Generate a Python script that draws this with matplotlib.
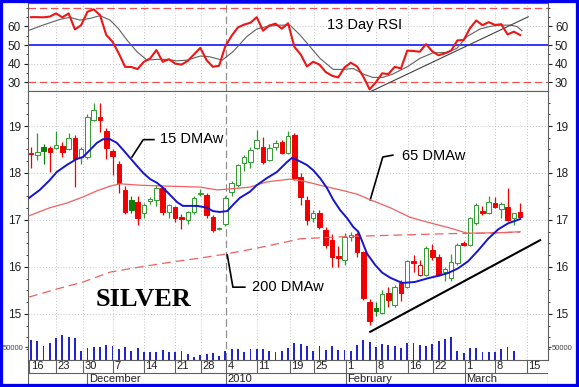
import matplotlib
matplotlib.use("Agg")
import matplotlib.pyplot as plt
from matplotlib.patches import Rectangle
from matplotlib.ticker import MultipleLocator

plt.rcParams['font.family'] = ['Liberation Sans', 'DejaVu Sans']

# --- data: daily silver candles, x = trading day index ---
opens = [18.42, 18.38, 18.56, 18.53, 18.53, 18.57, 18.51, 18.74, 18.34, 18.34,
         19.13, 19.20, 18.90, 18.47, 18.20, 17.64, 17.42, 17.38, 17.15, 17.41,
         17.43, 17.68, 17.17, 17.28, 17.06, 17.00, 17.17, 17.55, 17.53, 17.06,
         16.80, 16.92, 17.60, 17.74, 18.21, 18.23, 18.53, 18.55, 18.28, 18.55,
         18.66, 18.43, 18.81, 17.91, 17.43, 17.04, 17.15, 16.79, 16.57, 16.23,
         16.15, 16.64, 16.70, 16.32, 15.26, 15.13, 15.02, 15.45, 15.19, 15.66,
         15.57, 16.13, 15.83, 15.83, 16.36, 16.21, 15.90, 15.77, 16.08, 16.51,
         16.47, 16.94, 17.19, 17.15, 17.36, 17.23, 17.28, 17.04, 17.18]
highs = [18.55, 18.85, 18.62, 18.58, 18.90, 18.65, 18.85, 18.80, 18.55, 19.25,
         19.50, 19.50, 18.95, 18.50, 18.25, 17.72, 17.52, 17.52, 17.36, 17.48,
         17.75, 17.70, 17.35, 17.30, 17.12, 17.20, 17.50, 17.65, 17.58, 17.10,
         16.86, 17.52, 17.82, 18.20, 18.38, 18.55, 18.91, 18.77, 18.62, 18.70,
         18.70, 18.90, 18.85, 18.00, 17.50, 17.22, 17.22, 16.85, 16.70, 16.45,
         16.72, 16.75, 16.75, 16.35, 15.32, 15.25, 15.50, 15.58, 15.62, 15.72,
         16.15, 16.25, 16.15, 16.45, 16.48, 16.28, 15.99, 16.28, 16.50, 16.55,
         17.06, 17.36, 17.30, 17.50, 17.48, 17.38, 17.68, 17.15, 17.36]
lows = [18.10, 18.28, 18.20, 18.03, 18.50, 18.35, 18.48, 17.70, 18.20, 18.30,
        19.10, 18.87, 18.30, 17.96, 17.57, 17.12, 17.15, 16.90, 17.05, 17.35,
        17.30, 17.10, 17.05, 16.95, 16.80, 16.92, 17.12, 17.50, 17.05, 16.75,
        16.78, 16.88, 17.50, 17.70, 18.05, 18.10, 18.50, 18.20, 18.25, 18.48,
        18.40, 18.40, 17.85, 17.32, 16.90, 16.95, 16.80, 16.40, 16.00, 16.00,
        16.05, 16.55, 16.22, 15.30, 14.77, 14.95, 15.00, 15.15, 15.15, 15.28,
        15.55, 15.90, 15.80, 15.80, 16.15, 15.80, 15.70, 15.70, 16.05, 16.45,
        16.45, 16.90, 17.10, 17.12, 17.25, 17.05, 16.98, 16.90, 17.05]
closes = [18.40, 18.44, 18.47, 18.45, 18.60, 18.45, 18.74, 18.30, 18.50, 19.19,
          19.34, 19.13, 18.53, 18.36, 17.79, 17.17, 17.22, 17.04, 17.32, 17.44,
          17.68, 17.17, 17.32, 17.04, 17.03, 17.17, 17.47, 17.58, 17.10, 16.79,
          16.83, 17.47, 17.79, 18.17, 18.34, 18.49, 18.70, 18.23, 18.53, 18.64,
          18.43, 18.79, 17.89, 17.49, 17.00, 17.15, 16.85, 16.47, 16.21, 16.19,
          16.64, 16.68, 16.32, 15.34, 14.85, 15.06, 15.42, 15.30, 15.57, 15.45,
          16.13, 16.08, 16.05, 16.40, 16.21, 15.83, 15.96, 16.10, 16.47, 16.46,
          17.04, 17.32, 17.15, 17.38, 17.28, 17.34, 17.00, 17.14, 17.07]
volume = [77000, 73000, 54000, 65000, 85000, 96000, 88000, 85000, 35000, 46000,
          50000, 50000, 58000, 54000, 42000, 50000, 35000, 46000, 31000, 31000,
          31000, 38000, 31000, 31000, 35000, 23000, 12000, 19000, 23000, 27000,
          15000, 35000, 42000, 42000, 31000, 42000, 42000, 42000, 35000, 31000,
          35000, 46000, 65000, 62000, 54000, 35000, 54000, 38000, 54000, 38000,
          38000, 35000, 58000, 77000, 69000, 50000, 62000, 58000, 54000, 46000,
          65000, 65000, 58000, 54000, 62000, 73000, 81000, 88000, 35000, 27000,
          46000, 46000, 31000, 31000, 31000, 42000, 50000, 35000]
rsi13 = [65.0, 65.0, 64.9, 65.3, 67.0, 64.9, 67.0, 58.4, 60.7, 67.9,
         69.2, 66.1, 55.4, 51.8, 45.5, 38.3, 38.2, 37.1, 41.0, 42.8,
         47.3, 41.0, 42.4, 40.0, 39.5, 41.5, 45.0, 48.5, 41.9, 38.3,
         38.9, 49.5, 55.0, 59.5, 61.0, 62.0, 65.0, 57.7, 60.5, 61.5,
         58.8, 61.7, 49.0, 45.0, 38.5, 41.0, 39.5, 35.5, 33.5, 32.6,
         38.0, 40.5, 38.5, 33.0, 26.2, 30.0, 34.8, 34.4, 38.3, 37.4,
         47.0, 46.8, 46.4, 50.5, 46.6, 44.5, 45.5, 47.0, 52.5, 52.7,
         59.0, 63.2, 60.7, 62.3, 60.8, 61.2, 55.7, 57.2, 55.4]

rsi_sig_x = [-0.5, 1.9, 4.6, 6.2, 7.8, 9.4, 11.0, 12.6, 13.9, 15.3, 16.9, 18.5,
             20.1, 21.7, 23.3, 24.9, 27.0, 28.5, 30.5, 32.2, 34.4, 36.0, 37.6,
             39.7, 41.3, 42.9, 44.5, 46.1, 48.2, 49.8, 51.4, 53.0, 54.5, 56.1,
             57.7, 60.0, 62.0, 64.1, 66.3, 67.9, 69.5, 71.6, 73.2, 74.8, 76.4,
             77.5, 78.3]
rsi_sig_y = [57.7, 60.7, 63.8, 64.9, 63.4, 64.3, 65.8, 63.4, 59.0, 52.7, 46.4, 41.9,
             42.3, 42.3, 41.5, 41.9, 44.1, 43.7, 41.9, 46.4, 54.5, 58.6, 60.0,
             60.7, 60.7, 55.4, 49.1, 42.8, 36.9, 36.9, 37.4, 34.4, 32.6, 32.6,
             34.4, 38.3, 42.8, 45.8, 46.0, 48.2, 54.5, 58.6, 60.0, 60.7, 60.7,
             60.0, 57.7]
rsi_trend_x = [54.1, 79.3]
rsi_trend_y = [24.9, 65.2]

# moving averages
ma15_x = [-0.3, 1.4, 3.0, 4.1, 5.7, 7.3, 8.3, 9.4, 10.5, 11.5, 12.6, 13.7, 14.7,
          15.8, 16.9, 17.9, 19.0, 20.1, 21.1, 22.2, 23.3, 24.2, 26.5, 28.1, 29.0,
          30.1, 31.3, 32.2, 33.3, 34.9, 36.0, 37.6, 39.2, 40.8, 41.6, 42.4, 44.0,
          45.0, 46.1, 47.2, 48.2, 49.3, 50.4, 51.4, 52.2, 53.6, 54.9, 56.0, 57.3,
          58.5, 59.2, 61.2, 63.3, 64.9, 66.5, 68.1, 69.7, 71.3, 72.9, 74.5, 76.1, 78.0]
ma15_y = [17.47, 17.64, 17.85, 18.02, 18.17, 18.30, 18.34, 18.49, 18.64, 18.72, 18.72,
          18.64, 18.49, 18.32, 18.15, 18.00, 17.87, 17.79, 17.68, 17.53, 17.38, 17.30,
          17.30, 17.26, 17.19, 17.17, 17.19, 17.32, 17.47, 17.60, 17.74, 17.89, 18.02,
          18.23, 18.32, 18.28, 18.17, 18.06, 17.89, 17.68, 17.43, 17.21, 17.04, 16.85,
          16.75, 16.28, 16.04, 15.88, 15.77, 15.70, 15.66, 15.68, 15.76, 15.81, 15.87,
          15.97, 16.12, 16.35, 16.60, 16.80, 16.93, 17.02]
ma65_x = [-0.3, 3.0, 5.7, 8.3, 10.5, 12.6, 14.2, 17.4, 21.7, 27.0, 29.7, 31.7,
          34.9, 37.6, 41.3, 43.4, 46.1, 49.3, 52.0, 54.1, 57.3, 60.4, 63.6, 66.8,
          69.5, 71.6, 74.8, 78.0]
ma65_y = [17.09, 17.26, 17.36, 17.49, 17.62, 17.72, 17.77, 17.74, 17.72, 17.70,
          17.64, 17.66, 17.70, 17.81, 17.87, 17.83, 17.74, 17.64, 17.55, 17.43,
          17.26, 17.06, 16.94, 16.83, 16.72, 16.72, 16.73, 16.75]
ma200_x = [-0.3, 4.1, 8.3, 12.6, 17.4, 22.2, 27.0, 31.3, 36.0, 41.3, 42.9, 50.9,
           58.9, 66.8, 72.4, 78.0]
ma200_y = [15.36, 15.53, 15.68, 15.89, 16.00, 16.10, 16.19, 16.28, 16.40, 16.55,
           16.60, 16.65, 16.68, 16.71, 16.72, 16.74]
support_x = [54.1, 81.2]
support_y = [14.62, 16.57]

week_pos = [-0.3, 4.0, 8.3, 13.1, 18.0, 23.0, 27.1, 31.1, 36.0, 41.3, 45.1, 50.2,
            55.0, 60.1, 64.1, 69.2, 74.0, 79.1]
week_lbl = ["16", "23", "30", "7", "14", "21", "28", "4", "11", "19", "25", "1",
            "8", "16", "22", "1", "8", "15"]
month_pos = [9.0, 31.1, 50.2, 69.2]
month_lbl = ["December", "2010", "February", "March"]
year_pos = 31.1

# --- layout (pixel based) ---
W, H = 579, 387
fig = plt.figure(figsize=(W / 100, H / 100), dpi=100)
fig.patch.set_facecolor("white")
XL, XR = 28, 548
xlim = (-0.48, 82.45)


def box(top, bottom):
    return [XL / W, 1 - bottom / H, (XR - XL) / W, (bottom - top) / H]


ax_rsi = fig.add_axes(box(3, 91))
ax_p = fig.add_axes(box(91, 360))
ax_v = fig.add_axes(box(330, 360), facecolor="none")
ax_d = fig.add_axes(box(360, 385), facecolor="none")

grid_kw = dict(color="#c4c4c4", lw=0.7, ls=(0, (1, 2)))
spine_c = "#606060"

for ax in (ax_rsi, ax_p):
    ax.set_xlim(*xlim)
    ax.set_xticks([])
    for s in ax.spines.values():
        s.set_color(spine_c)
        s.set_linewidth(0.8)
    for p in week_pos[1:]:
        if p != year_pos:
            ax.axvline(p, zorder=0, **grid_kw)
    ax.axvline(year_pos, color="#909090", lw=0.9, ls=(0, (6, 3)), zorder=0)
    ax.tick_params(axis="y", which="both", left=True, right=True,
                   labelleft=True, labelright=True, direction="out",
                   colors="#202020", labelsize=8.5, pad=2)
    ax.tick_params(axis="y", which="major", length=3)
    ax.tick_params(axis="y", which="minor", length=1.5)

# --- RSI panel ---
ax_rsi.set_ylim(25.3, 72.6)
ax_rsi.set_yticks([30, 40, 50, 60])
ax_rsi.yaxis.set_minor_locator(MultipleLocator(5))
for lvl in (40, 60):
    ax_rsi.axhline(lvl, zorder=0, **grid_kw)
ax_rsi.axhline(70, color="#f05050", lw=0.9, ls=(0, (6, 3)))
ax_rsi.axhline(30, color="#f05050", lw=0.9, ls=(0, (6, 3)))
ax_rsi.axhline(50, color="#0000ff", lw=1.1)
ax_rsi.plot(rsi_sig_x, rsi_sig_y, color="#606060", lw=0.8)
ax_rsi.plot(rsi_trend_x, rsi_trend_y, color="#404040", lw=0.8)
ax_rsi.plot(range(len(rsi13)), rsi13, color="#ee1515", lw=1.5)
ax_rsi.text(47.2, 60.8, "13 Day RSI", fontsize=10.5, va="center", ha="left")

# --- price panel ---
ax_p.set_ylim(14.02, 19.745)
ax_p.set_yticks([15, 16, 17, 18, 19])
ax_p.yaxis.set_minor_locator(MultipleLocator(0.25))
for lvl in (15, 16, 17, 18, 19):
    ax_p.axhline(lvl, zorder=0, **grid_kw)

red, green, dgreen = "#f00000", "#2f9a2f", "#0a800a"
bw = 0.72
for i in range(len(closes)):
    o, h, l, c = opens[i], highs[i], lows[i], closes[i]
    prev = closes[i - 1] if i else o
    up = c >= prev
    filled = c < o
    edge = (green if not filled else dgreen) if up else red
    face = edge if filled else "white"
    ax_p.vlines(i, l, h, color=edge, lw=0.9, zorder=2)
    lo, hi = min(o, c), max(o, c)
    ax_p.add_patch(Rectangle((i - bw / 2, lo), bw, max(hi - lo, 0.025),
                             facecolor=face, edgecolor=edge, lw=0.7, zorder=3))

ax_p.plot(ma200_x, ma200_y, color="#f06060", lw=0.9, ls=(0, (7, 4)), zorder=4)
ax_p.plot(ma65_x, ma65_y, color="#f06060", lw=0.9, zorder=4)
ax_p.plot(ma15_x, ma15_y, color="#1515d0", lw=1.4, zorder=5)
ax_p.plot(support_x, support_y, color="black", lw=1.5, zorder=5)

# callouts
ax_p.plot([16.1, 17.9, 19.6], [18.34, 18.71, 18.71], color="black", lw=1.2)
ax_p.text(20.6, 18.72, "15 DMAw", fontsize=10.5, va="center", ha="left")
ax_p.plot([54.1, 56.1, 57.7], [17.43, 18.34, 18.38], color="black", lw=1.2)
ax_p.text(59.2, 18.36, "65 DMAw", fontsize=10.5, va="center", ha="left")
ax_p.plot([31.3, 32.2, 34.1], [16.26, 15.57, 15.57], color="black", lw=1.2)
ax_p.text(35.2, 15.57, "200 DMAw", fontsize=10.5, va="center", ha="left")
ax_p.text(17.9, 15.30, "SILVER", family="Liberation Serif", fontweight="bold",
          fontsize=19, va="center", ha="center")

# --- volume overlay ---
ax_v.set_xlim(*xlim)
ax_v.set_ylim(0, 30 / 13 * 50000)
ax_v.bar(range(len(volume)), volume, width=0.3, color="#2424cc", zorder=3)
ax_v.set_xticks([])
ax_v.set_yticks([50000])
ax_v.set_yticklabels(["50000"])
ax_v.tick_params(axis="y", left=True, right=True, labelleft=True,
                 labelright=True, length=2, labelsize=5.5, colors="#404040", pad=1)
for s in ax_v.spines.values():
    s.set_visible(False)

# --- date axis ---
ax_d.set_xlim(*xlim)
ax_d.set_ylim(0, 2)
ax_d.axis("off")
ax_d.vlines(week_pos, 1, 2, color=spine_c, lw=0.8)
ax_d.vlines(month_pos, 0, 1, color=spine_c, lw=0.8)
ax_d.vlines([xlim[0], xlim[1]], 0, 2, color=spine_c, lw=0.8)
ax_d.hlines(1, xlim[0], xlim[1], color=spine_c, lw=0.8)
for p, t in zip(week_pos, week_lbl):
    ax_d.text(p + 0.25, 1.5, t, fontsize=8, va="center", ha="left", color="#202020")
for p, t in zip(month_pos, month_lbl):
    ax_d.text(p + 0.25, 0.5, t, fontsize=8, va="center", ha="left", color="#202020")

# blue frame around the picture
fig.add_artist(Rectangle((0, 0), 1, 1, transform=fig.transFigure, fill=False,
                         edgecolor="#0000ee", lw=4.5))

fig.savefig("out.png", dpi=100, facecolor="white")
